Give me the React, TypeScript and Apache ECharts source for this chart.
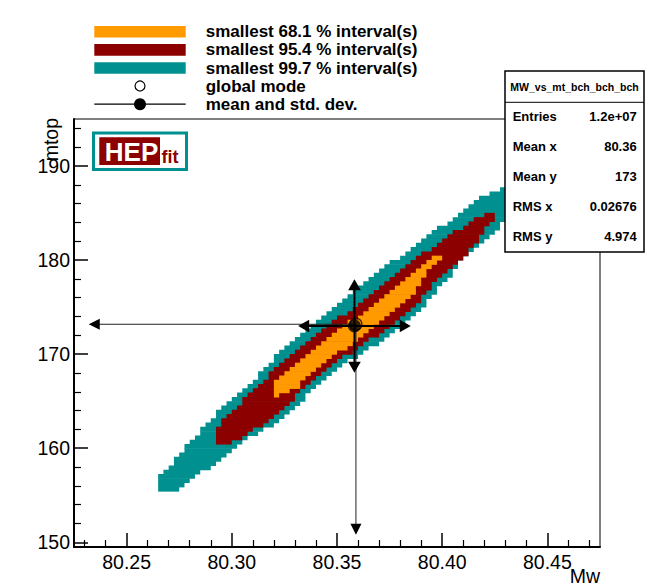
import React, { useEffect, useRef } from "react";
import * as echarts from "echarts";

const FONT = "'Liberation Sans', Arial, Helvetica, sans-serif";

// axis ranges (histogram range)
const xRange = [80.225, 80.475];
const yRange = [149.5, 195];
const xMajorTicks = [80.25, 80.3, 80.35, 80.4, 80.45];
const xMinorTicks = [80.23, 80.24, 80.26, 80.27, 80.28, 80.29, 80.31, 80.32, 80.33, 80.34, 80.36, 80.37, 80.38, 80.39, 80.41, 80.42, 80.43, 80.44, 80.46, 80.47];
const yMajorTicks = [150, 160, 170, 180, 190];
const yMinorTicks = [152, 154, 156, 158, 162, 164, 166, 168, 172, 174, 176, 178, 182, 184, 186, 188, 192, 194];

// histogram binning (100 x 100 bins)
const xBins = [80.225, 0.0025, 100];
const yBins = [149.5, 0.455, 100];

// credible-region outlines (upper edge left->right, then lower edge right->left)
const region997 = [
  [80.2644, 156.63], [80.2725, 158.44], [80.2797, 160.78], [80.2845, 161.31], [80.2873, 162.48], [80.2921, 163.54],
  [80.2998, 165.35], [80.3097, 167.05], [80.315, 168.32], [80.3226, 170.13], [80.3321, 171.83], [80.3431, 173.95],
  [80.3545, 176.08], [80.3655, 178.2], [80.3764, 179.8], [80.386, 181.39], [80.3974, 183.2], [80.407, 184.79],
  [80.4165, 186.39], [80.426, 187.45], [80.4418, 190.1], [80.4466, 188.5],
  [80.4418, 184.79], [80.4284, 184.26], [80.4275, 183.52], [80.4213, 182.45], [80.4156, 181.39], [80.4084, 179.8],
  [80.4022, 177.89], [80.3941, 175.87], [80.386, 173.95], [80.3703, 171.3], [80.3545, 169.06], [80.3383, 166.2],
  [80.3321, 164.81], [80.3259, 163.54], [80.3193, 162.48], [80.3131, 161.63], [80.3069, 161.09], [80.3002, 159.82],
  [80.293, 158.44], [80.2845, 157.38], [80.2773, 155.78], [80.2692, 155.25], [80.2644, 155.36],
];
const region954 = [
  [80.2921, 160.24], [80.2921, 161.63], [80.2949, 162.58], [80.2997, 163.86], [80.3073, 165.45], [80.3145, 166.94],
  [80.3193, 168.32], [80.3274, 169.91], [80.3355, 171.19], [80.3431, 172.57], [80.3545, 174.38], [80.3703, 177.14],
  [80.386, 180.01], [80.3941, 181.07], [80.4022, 182.45], [80.4098, 183.52], [80.4179, 184.58], [80.4246, 185.11],
  [80.4237, 184.26], [80.4213, 183.52], [80.4189, 182.67], [80.4156, 181.82], [80.4122, 180.86], [80.4084, 180.01],
  [80.4036, 178.95], [80.3974, 177.78], [80.386, 174.91], [80.3703, 172.25], [80.3545, 169.91], [80.3383, 167.26],
  [80.3307, 165.56], [80.3274, 164.81], [80.3193, 163.33], [80.3131, 162.26], [80.305, 161.2], [80.2997, 160.56],
  [80.2926, 160.14],
];
const region681 = [
  [80.3193, 165.45], [80.3198, 166.41], [80.3216, 167.26], [80.3274, 168.32], [80.3355, 169.7], [80.3431, 171.19],
  [80.3512, 172.57], [80.3703, 175.76], [80.3784, 177.14], [80.386, 178.63], [80.3908, 179.27], [80.3941, 180.12],
  [80.3998, 180.44],
  [80.3974, 179.69], [80.3927, 178.63], [80.3893, 177.67], [80.386, 176.4], [80.3703, 173.42], [80.3545, 170.77],
  [80.3383, 168.11], [80.3307, 166.41], [80.3226, 165.56], [80.3193, 165.35],
];

const levelLabels = ["smallest 68.1 % interval(s)", "smallest 95.4 % interval(s)", "smallest 99.7 % interval(s)"];
const levelColors = ["#ff9a00", "#8c0000", "#009090"];
const markerLabels = ["global mode", "mean and std. dev."];

// mean / std. dev. and global mode
const meanPoint = [80.3583, 173.0];
const stdDev = [0.02676, 4.974];
const modePoint = [80.359, 173.18];
const modeArrowEnds = [80.232, 150.8];

// statistics box
const statsTitle = "MW_vs_mt_bch_bch_bch";
const statLabels = ["Entries", "Mean x", "Mean y", "RMS x", "RMS y"];
const statValues = ["1.2e+07", "80.36", "173", "0.02676", "4.974"];

function rasterRender(poly: number[][], color: string) {
  return (params: any, api: any) => {
    if (params.dataIndex !== 0) return null;
    const children: any[] = [];
    const [x0, dx, nx] = xBins;
    const [y0, dy, ny] = yBins;
    for (let j = 0; j < ny; j++) {
      const yl = y0 + j * dy;
      const yh = yl + dy;
      const yc = (yl + yh) / 2;
      const xs: number[] = [];
      for (let k = 0; k < poly.length; k++) {
        const a = poly[k];
        const b = poly[(k + 1) % poly.length];
        if ((a[1] <= yc && b[1] > yc) || (b[1] <= yc && a[1] > yc)) {
          xs.push(a[0] + ((yc - a[1]) / (b[1] - a[1])) * (b[0] - a[0]));
        }
      }
      xs.sort((p, q) => p - q);
      for (let m = 0; m + 1 < xs.length; m += 2) {
        const i0 = Math.max(0, Math.ceil((xs[m] - x0) / dx - 0.5));
        const i1 = Math.min(nx - 1, Math.floor((xs[m + 1] - x0) / dx - 0.5));
        if (i1 < i0) continue;
        const p0 = api.coord([x0 + i0 * dx, yh]);
        const p1 = api.coord([x0 + (i1 + 1) * dx, yl]);
        children.push({
          type: "rect",
          shape: { x: p0[0], y: p0[1] - 0.3, width: p1[0] - p0[0], height: p1[1] - p0[1] + 0.6 },
          style: { fill: color },
        });
      }
    }
    return { type: "group", children };
  };
}

function arrowHead(tip: number[], dir: number[], len: number, half: number) {
  const bx = tip[0] - dir[0] * len;
  const by = tip[1] - dir[1] * len;
  const nx = -dir[1];
  const ny = dir[0];
  return {
    type: "polygon",
    shape: { points: [[tip[0], tip[1]], [bx + nx * half, by + ny * half], [bx - nx * half, by - ny * half]] },
    style: { fill: "#000" },
  };
}

function stdDevRender(params: any, api: any) {
  const mx = api.value(0), my = api.value(1), sx = api.value(2), sy = api.value(3);
  const l = api.coord([mx - sx, my]);
  const r = api.coord([mx + sx, my]);
  const t = api.coord([mx, my + sy]);
  const b = api.coord([mx, my - sy]);
  const ls = { stroke: "#000", lineWidth: 2 };
  return {
    type: "group",
    children: [
      { type: "line", shape: { x1: l[0] + 6, y1: l[1], x2: r[0] - 6, y2: r[1] }, style: ls },
      { type: "line", shape: { x1: t[0], y1: t[1] + 6, x2: b[0], y2: b[1] - 6 }, style: ls },
      arrowHead(l, [-1, 0], 11, 6.3),
      arrowHead(r, [1, 0], 11, 6.3),
      arrowHead(t, [0, -1], 11, 6.3),
      arrowHead(b, [0, 1], 11, 6.3),
    ],
  };
}

function modeRender(params: any, api: any) {
  const mx = api.value(0), my = api.value(1), ex = api.value(2), ey = api.value(3);
  const c = api.coord([mx, my]);
  const l = api.coord([ex, my]);
  const b = api.coord([mx, ey]);
  const ls = { stroke: "#222", lineWidth: 1 };
  return {
    type: "group",
    children: [
      { type: "line", shape: { x1: c[0], y1: c[1], x2: l[0] + 6, y2: l[1] }, style: ls },
      { type: "line", shape: { x1: c[0], y1: c[1], x2: b[0], y2: b[1] - 6 }, style: ls },
      arrowHead(l, [-1, 0], 11, 5.5),
      arrowHead(b, [0, 1], 11, 5.5),
    ],
  };
}

function buildGraphics() {
  const g: any[] = [];
  // legend
  const rowY = [31.8, 49.9, 68, 86, 104.2];
  const legendItems = [
    { text: levelLabels[0], color: levelColors[0] },
    { text: levelLabels[1], color: levelColors[1] },
    { text: levelLabels[2], color: levelColors[2] },
  ];
  legendItems.forEach((it, i) => {
    g.push({ type: "rect", shape: { x: 94.3, y: rowY[i] - 5.8, width: 91.4, height: 11.6 }, style: { fill: it.color }, z: 100 });
    g.push({
      type: "text", x: 205.7, y: rowY[i], z: 100,
      style: { text: it.text, fill: "#000", fontSize: 17, fontWeight: "bold", fontFamily: FONT, align: "left", verticalAlign: "middle" },
    });
  });
  g.push({ type: "circle", shape: { cx: 140, cy: rowY[3], r: 5 }, style: { fill: "#fff", stroke: "#000", lineWidth: 1.2 }, z: 100 });
  g.push({ type: "line", shape: { x1: 94.3, y1: rowY[4], x2: 185.7, y2: rowY[4] }, style: { stroke: "#000", lineWidth: 1.2 }, z: 100 });
  g.push({ type: "circle", shape: { cx: 140, cy: rowY[4], r: 6 }, style: { fill: "#000" }, z: 100 });
  markerLabels.forEach((t, i) => {
    g.push({
      type: "text", x: 205.7, y: rowY[3 + i], z: 100,
      style: { text: t, fill: "#000", fontSize: 17, fontWeight: "bold", fontFamily: FONT, align: "left", verticalAlign: "middle" },
    });
  });

  // stats box
  g.push({ type: "rect", shape: { x: 505, y: 71, width: 139, height: 181 }, style: { fill: "#fff", stroke: "#000", lineWidth: 1.5 }, z: 100 });
  g.push({ type: "line", shape: { x1: 505, y1: 102.3, x2: 644, y2: 102.3 }, style: { stroke: "#000", lineWidth: 1 }, z: 101 });
  g.push({
    type: "text", x: 574.5, y: 87, z: 101,
    style: { text: statsTitle, fill: "#000", fontSize: 10.5, fontWeight: "bold", fontFamily: FONT, align: "center", verticalAlign: "middle" },
  });
  statLabels.forEach((lab, i) => {
    const y = 116.7 + i * 30;
    g.push({
      type: "text", x: 512.7, y, z: 101,
      style: { text: lab, fill: "#000", fontSize: 13, fontWeight: "bold", fontFamily: FONT, align: "left", verticalAlign: "middle" },
    });
    g.push({
      type: "text", x: 636.7, y, z: 101,
      style: { text: statValues[i], fill: "#000", fontSize: 13, fontWeight: "bold", fontFamily: FONT, align: "right", verticalAlign: "middle" },
    });
  });

  // HEPfit logo
  g.push({ type: "rect", shape: { x: 93.5, y: 132.9, width: 93, height: 36.6 }, style: { fill: "#fff", stroke: "#009090", lineWidth: 3 }, z: 100 });
  g.push({ type: "rect", shape: { x: 99.3, y: 137.3, width: 60.7, height: 27.7 }, style: { fill: "#8c0000" }, z: 101 });
  g.push({
    type: "text", x: 131.5, y: 151.5, z: 102,
    style: { text: "HEP", fill: "#fff", fontSize: 26, fontWeight: "bold", fontFamily: FONT, align: "center", verticalAlign: "middle" },
  });
  g.push({
    type: "text", x: 161.5, y: 157, z: 102,
    style: { text: "fit", fill: "#8c0000", fontSize: 18, fontWeight: "bold", fontFamily: FONT, align: "left", verticalAlign: "middle" },
  });

  // axis titles
  g.push({
    type: "text", x: 51, y: 118, rotation: Math.PI / 2, z: 100,
    style: { text: "mtop", fill: "#000", fontSize: 19.5, fontFamily: FONT, align: "right", verticalAlign: "middle" },
  });
  g.push({
    type: "text", x: 600, y: 576, z: 100,
    style: { text: "Mw", fill: "#000", fontSize: 19.5, fontFamily: FONT, align: "right", verticalAlign: "middle" },
  });
  return g;
}

function buildOption(): any {
  const axisFont = { fontSize: 19.5, color: "#000", fontFamily: FONT };
  return {
    animation: false,
    backgroundColor: "#fff",
    grid: {
      left: 74, right: 48, top: 119, bottom: 40,
      show: true, borderColor: "#000", borderWidth: 1, backgroundColor: "transparent",
      containLabel: false, outerBoundsMode: "none",
    },
    xAxis: [
      {
        type: "value", min: xRange[0], max: xRange[1], position: "bottom",
        axisLine: { show: true, onZero: false, lineStyle: { color: "#000", width: 2 } },
        axisTick: { show: true, inside: true, length: 14, customValues: xMajorTicks, lineStyle: { color: "#000", width: 1.5 } },
        axisLabel: { show: true, customValues: xMajorTicks, formatter: (v: number) => v.toFixed(2), margin: 5, ...axisFont },
        splitLine: { show: false },
      },
      {
        type: "value", min: xRange[0], max: xRange[1], position: "bottom",
        axisLine: { show: false },
        axisTick: { show: true, inside: true, length: 7, customValues: xMinorTicks, lineStyle: { color: "#000", width: 1.2 } },
        axisLabel: { show: false },
        splitLine: { show: false },
      },
    ],
    yAxis: [
      {
        type: "value", min: yRange[0], max: yRange[1], position: "left",
        axisLine: { show: true, onZero: false, lineStyle: { color: "#000", width: 2 } },
        axisTick: { show: true, inside: true, length: 14, customValues: yMajorTicks, lineStyle: { color: "#000", width: 1.5 } },
        axisLabel: { show: true, customValues: yMajorTicks, formatter: (v: number) => String(Math.round(v)), margin: 4, ...axisFont },
        splitLine: { show: false },
      },
      {
        type: "value", min: yRange[0], max: yRange[1], position: "left",
        axisLine: { show: false },
        axisTick: { show: true, inside: true, length: 7, customValues: yMinorTicks, lineStyle: { color: "#000", width: 1.2 } },
        axisLabel: { show: false },
        splitLine: { show: false },
      },
    ],
    series: [
      { type: "custom", name: levelLabels[2], data: region997, encode: { x: 0, y: 1 }, renderItem: rasterRender(region997, levelColors[2]), z: 1, silent: true },
      { type: "custom", name: levelLabels[1], data: region954, encode: { x: 0, y: 1 }, renderItem: rasterRender(region954, levelColors[1]), z: 2, silent: true },
      { type: "custom", name: levelLabels[0], data: region681, encode: { x: 0, y: 1 }, renderItem: rasterRender(region681, levelColors[0]), z: 3, silent: true },
      {
        type: "custom", name: "global mode arrows",
        data: [[modePoint[0], modePoint[1], modeArrowEnds[0], modeArrowEnds[1]]],
        encode: { x: 0, y: 1 }, renderItem: modeRender, z: 4, silent: true,
      },
      {
        type: "custom", name: markerLabels[1],
        data: [[meanPoint[0], meanPoint[1], stdDev[0], stdDev[1]]],
        encode: { x: 0, y: 1 }, renderItem: stdDevRender, z: 5, silent: true,
      },
      {
        type: "scatter", name: markerLabels[0], data: [modePoint], symbol: "circle", symbolSize: 12,
        itemStyle: { color: "transparent", borderColor: "#000", borderWidth: 1.2 }, z: 6, silent: true,
      },
      {
        type: "scatter", name: "mean", data: [meanPoint], symbol: "circle", symbolSize: 13,
        itemStyle: { color: "#000" }, z: 7, silent: true,
      },
    ],
    graphic: { elements: buildGraphics() },
  };
}

export default function App() {
  const ref = useRef<HTMLDivElement>(null);
  useEffect(() => {
    const el = ref.current;
    if (!el) return;
    const chart = echarts.init(el, null, { renderer: "svg" });
    chart.setOption(buildOption());
    return () => chart.dispose();
  }, []);
  return (
    <div
      ref={ref}
      style={{ position: "fixed", left: 0, top: 0, width: 648, height: 587, background: "#fff" }}
    />
  );
}
